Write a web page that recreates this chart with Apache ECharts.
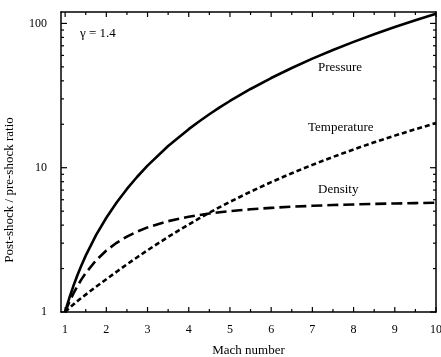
<!DOCTYPE html>
<html>
<head>
<meta charset="utf-8">
<script src="https://cdn.jsdelivr.net/npm/echarts@6/dist/echarts.min.js"></script>
<style>
html, body { margin: 0; padding: 0; background: #fff; }
#chart { width: 441px; height: 357px; }
</style>
</head>
<body>
<div id="chart"></div>
<script>
// Normal shock ratios, gamma = 1.4
const mach = [1, 1.05, 1.1, 1.2, 1.3, 1.4, 1.5, 1.75, 2, 2.25, 2.5, 2.75, 3, 3.5, 4, 4.25, 4.5, 4.75, 5, 5.5, 6, 6.5, 7, 7.5, 8, 8.5, 9, 9.5, 10];
const pressure = [1, 1.12, 1.245, 1.513, 1.805, 2.12, 2.458, 3.406, 4.5, 5.74, 7.125, 8.656, 10.33, 14.13, 18.5, 20.91, 23.46, 26.16, 29, 35.13, 41.83, 49.13, 57, 65.46, 74.5, 84.13, 94.33, 105.1, 116.5];
const temperature = [1, 1.033, 1.065, 1.128, 1.191, 1.255, 1.32, 1.495, 1.688, 1.901, 2.138, 2.397, 2.679, 3.315, 4.047, 4.449, 4.875, 5.326, 5.8, 6.822, 7.941, 9.156, 10.47, 11.88, 13.39, 14.99, 16.69, 18.49, 20.39];
const density = [1, 1.084, 1.169, 1.342, 1.516, 1.69, 1.862, 2.279, 2.667, 3.019, 3.333, 3.612, 3.857, 4.261, 4.571, 4.7, 4.812, 4.912, 5, 5.149, 5.268, 5.365, 5.444, 5.51, 5.565, 5.612, 5.651, 5.685, 5.714];

const xMajorTicks = [1, 2, 3, 4, 5, 6, 7, 8, 9, 10];
const xMinorTicks = [1.5, 2.5, 3.5, 4.5, 5.5, 6.5, 7.5, 8.5, 9.5];
const yMajorTicks = [1, 10, 100];
const yMinorTicks = [2, 3, 4, 5, 6, 7, 8, 9, 20, 30, 40, 50, 60, 70, 80, 90];

const serif = "'Liberation Serif', 'DejaVu Serif', serif";
const X_MIN = 0.9, X_MAX = 10, Y_MIN = 1, Y_MAX = 120;
const axisLine = { show: true, onZero: false, lineStyle: { color: '#000', width: 1.5 } };

// inward ticks on all four sides, drawn through the axis scales
function tickSeries(values, dim, len) {
    return {
        type: 'custom', xAxisIndex: 0, yAxisIndex: 0, clip: false, silent: true, z: 5,
        data: values.map(v => [v]),
        renderItem(params, api) {
            const v = api.value(0);
            const style = { stroke: '#000', lineWidth: 1.2 };
            let a, b;
            if (dim === 'x') {
                a = api.coord([v, Y_MIN]);
                b = api.coord([v, Y_MAX]);
                return { type: 'group', children: [
                    { type: 'line', shape: { x1: a[0], y1: a[1], x2: a[0], y2: a[1] - len }, style },
                    { type: 'line', shape: { x1: b[0], y1: b[1], x2: b[0], y2: b[1] + len }, style }
                ] };
            }
            a = api.coord([X_MIN, v]);
            b = api.coord([X_MAX, v]);
            return { type: 'group', children: [
                { type: 'line', shape: { x1: a[0], y1: a[1], x2: a[0] + len, y2: a[1] }, style },
                { type: 'line', shape: { x1: b[0], y1: b[1], x2: b[0] - len, y2: b[1] }, style }
            ] };
        }
    };
}

function curve(name, values, dash) {
    return {
        name, type: 'line', xAxisIndex: 0, yAxisIndex: 0,
        data: mach.map((m, i) => [m, values[i]]),
        showSymbol: false, smooth: false,
        lineStyle: { color: '#000', width: 2.6, type: dash, cap: 'butt', join: 'round' },
        z: 3
    };
}

const chart = echarts.init(document.getElementById('chart'), null, { renderer: 'canvas' });
chart.setOption({
    backgroundColor: '#fff',
    animation: false,
    grid: { left: 61, right: 5, top: 12, bottom: 45, containLabel: false, outerBoundsMode: 'none' },
    xAxis: [
        {
            type: 'value', position: 'bottom', min: X_MIN, max: X_MAX,
            axisLine, axisTick: { show: false }, splitLine: { show: false },
            axisLabel: { customValues: xMajorTicks, margin: 12, color: '#000', fontSize: 12, fontFamily: serif },
            name: 'Mach number', nameLocation: 'middle', nameGap: 32,
            nameTextStyle: { color: '#000', fontSize: 13, fontFamily: serif }
        },
        {
            type: 'value', position: 'top', min: X_MIN, max: X_MAX,
            axisLine, axisTick: { show: false }, axisLabel: { show: false }, splitLine: { show: false }
        }
    ],
    yAxis: [
        {
            type: 'log', logBase: 10, position: 'left', min: Y_MIN, max: Y_MAX,
            axisLine, axisTick: { show: false }, splitLine: { show: false },
            axisLabel: { customValues: yMajorTicks, margin: 14, color: '#000', fontSize: 12, fontFamily: serif }
        },
        {
            type: 'log', logBase: 10, position: 'right', min: Y_MIN, max: Y_MAX,
            axisLine, axisTick: { show: false }, axisLabel: { show: false }, splitLine: { show: false }
        }
    ],
    series: [
        curve('Pressure', pressure, 'solid'),
        curve('Temperature', temperature, [5, 3]),
        curve('Density', density, [11, 5]),
        tickSeries(xMajorTicks, 'x', 5),
        tickSeries(xMinorTicks, 'x', 3),
        tickSeries(yMajorTicks, 'y', 6),
        tickSeries(yMinorTicks, 'y', 3)
    ],
    graphic: [
        { type: 'text', left: 80, top: 27, style: { text: 'γ = 1.4', fill: '#000', font: '13px ' + serif } },
        { type: 'text', left: 318, top: 61, style: { text: 'Pressure', fill: '#000', font: '13px ' + serif } },
        { type: 'text', left: 308, top: 121, style: { text: 'Temperature', fill: '#000', font: '13px ' + serif } },
        { type: 'text', left: 318, top: 183, style: { text: 'Density', fill: '#000', font: '13px ' + serif } },
        {
            type: 'text', x: 10, y: 190, rotation: Math.PI / 2,
            style: { text: 'Post-shock / pre-shock ratio', fill: '#000', font: '13px ' + serif, align: 'center', verticalAlign: 'middle' }
        }
    ]
});
</script>
</body>
</html>
